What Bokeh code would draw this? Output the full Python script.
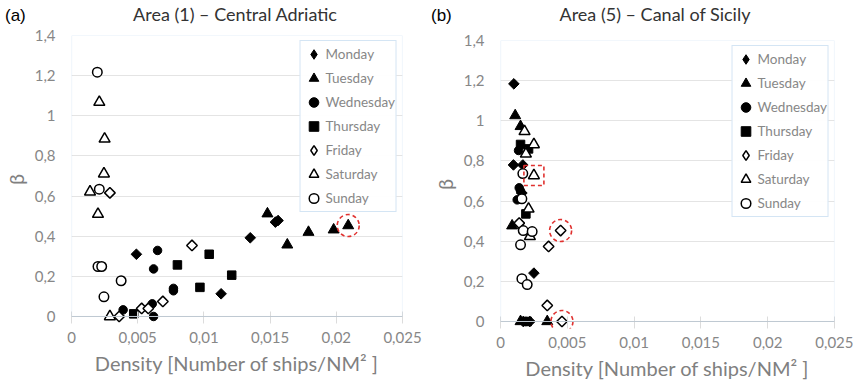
import numpy as np
from bokeh.plotting import figure
from bokeh.layouts import row, column
from bokeh.models import (FixedTicker, Span, BoxAnnotation, Range1d, Legend,
                          LegendItem, Div, Spacer)
from bokeh.embed import file_html
from bokeh.resources import INLINE

# Axis ticks and their comma-decimal labels
Y_TICKS = [0, 0.2, 0.4, 0.6, 0.8, 1.0, 1.2, 1.4]
Y_TICK_LABELS = ["0", "0,2", "0,4", "0,6", "0,8", "1", "1,2", "1,4"]
X_TICKS = [0, 0.005, 0.01, 0.015, 0.02, 0.025]
X_TICK_LABELS = ["0", "0,005", "0,01", "0,015", "0,02", "0,025"]

DAYS = ["Monday", "Tuesday", "Wednesday", "Thursday", "Friday", "Saturday", "Sunday"]

PANEL_LETTERS = ["(a)", "(b)"]
PANEL_TITLES = ["Area (1) – Central Adriatic", "Area (5) – Canal of Sicily"]

# Area (1) - Central Adriatic: density vs beta, per weekday
a1_mon_x = [0.0049, 0.0113, 0.0135, 0.0154, 0.0156]
a1_mon_y = [0.31, 0.113, 0.392, 0.47, 0.478]
a1_tue_x = [0.0148, 0.0163, 0.0179, 0.0198, 0.0209]
a1_tue_y = [0.512, 0.357, 0.42, 0.432, 0.453]
a1_wed_x = [0.0039, 0.0061, 0.0062, 0.0062, 0.0065, 0.0077, 0.0077]
a1_wed_y = [0.033, 0.063, 0.0, 0.237, 0.329, 0.128, 0.14]
a1_thu_x = [0.0047, 0.0080, 0.0097, 0.0104, 0.0121]
a1_thu_y = [0.013, 0.257, 0.145, 0.31, 0.206]
a1_fri_x = [0.0029, 0.0036, 0.0053, 0.0058, 0.0069, 0.0091]
a1_fri_y = [0.616, 0.0, 0.04, 0.04, 0.075, 0.354]
a1_sat_x = [0.0014, 0.0020, 0.0021, 0.00245, 0.0025, 0.0029]
a1_sat_y = [0.621, 0.51, 1.068, 0.711, 0.885, 0.0]
a1_sun_x = [0.00195, 0.0021, 0.0020, 0.00228, 0.00245, 0.00375]
a1_sun_y = [1.217, 0.634, 0.249, 0.249, 0.098, 0.178]

# Area (5) - Canal of Sicily
a5_mon_x = [0.0010, 0.00097, 0.00167, 0.0016, 0.0025, 0.0017, 0.0022]
a5_mon_y = [1.184, 0.78, 0.78, 0.64, 0.241, 0.0, 0.0]
a5_tue_x = [0.0011, 0.0015, 0.00087, 0.0015, 0.0035]
a5_tue_y = [1.026, 0.972, 0.477, 0.0, 0.0]
a5_wed_x = [0.00135, 0.0014, 0.00125, 0.0015, 0.0019]
a5_wed_y = [0.852, 0.666, 0.606, 0.65, 0.0]
a5_thu_x = [0.0015, 0.0021, 0.0019, 0.0020]
a5_thu_y = [0.882, 0.86, 0.536, 0.0]
a5_fri_x = [0.0014, 0.0036, 0.0045, 0.0035, 0.0046]
a5_fri_y = [0.49, 0.374, 0.453, 0.08, 0.0]
a5_sat_x = [0.0018, 0.0025, 0.0019, 0.0025, 0.0021, 0.0022]
a5_sat_y = [0.947, 0.882, 0.835, 0.727, 0.561, 0.424]
a5_sun_x = [0.00167, 0.0016, 0.0017, 0.00237, 0.0015, 0.0016, 0.0020]
a5_sun_y = [0.737, 0.611, 0.453, 0.448, 0.382, 0.213, 0.184]

FONT = "Lato"
TICK_COLOR = "#878787"
LABEL_COLOR = "#808080"
FRAME_BLUE = "#a9cbe9"
RED = "#e0312f"
HEADER_H = 25

# marker, filled?, size, angle, legend-key marker
STYLES = {
    "Monday": ("square", True, 7.5, np.pi / 4, "diamond"),
    "Tuesday": ("triangle", True, 11, 0, "triangle"),
    "Wednesday": ("circle", True, 8.5, 0, "circle"),
    "Thursday": ("square", True, 8.5, 0, "square"),
    "Friday": ("square", False, 7.5, np.pi / 4, "diamond"),
    "Saturday": ("triangle", False, 11, 0, "triangle"),
    "Sunday": ("circle", False, 9.5, 0, "circle"),
}


def make_panel(series, width, height, border, circled, boxed):
    left, right, top, bottom = border
    p = figure(width=width, height=height,
               min_border_left=left, min_border_right=right,
               min_border_top=top, min_border_bottom=bottom,
               x_range=Range1d(0, 0.025), y_range=Range1d(-0.035, 1.4),
               output_backend="svg", toolbar_location=None,
               background_fill_color="white", border_fill_color="white")
    p.outline_line_color = None
    p.title.visible = False

    # y axis
    p.yaxis.ticker = FixedTicker(ticks=Y_TICKS)
    p.yaxis.major_label_overrides = dict(zip(Y_TICKS, Y_TICK_LABELS))
    p.yaxis.axis_line_color = None
    p.yaxis.major_tick_line_color = None
    p.yaxis.major_tick_out = 0
    p.yaxis.major_tick_in = 0
    p.yaxis.minor_tick_line_color = None
    p.yaxis.major_label_standoff = 16
    p.yaxis.major_label_text_font = FONT
    p.yaxis.major_label_text_font_size = "15px"
    p.yaxis.major_label_text_color = TICK_COLOR
    p.yaxis.axis_label = "β"
    p.yaxis.axis_label_text_font = FONT
    p.yaxis.axis_label_text_font_style = "normal"
    p.yaxis.axis_label_text_font_size = "20px"
    p.yaxis.axis_label_text_color = LABEL_COLOR
    p.yaxis.axis_label_standoff = 4

    # x axis
    p.xaxis.ticker = FixedTicker(ticks=X_TICKS)
    p.xaxis.major_label_overrides = dict(zip(X_TICKS, X_TICK_LABELS))
    p.xaxis.axis_line_color = None
    p.xaxis.major_tick_line_color = "#dcdcdc"
    p.xaxis.major_tick_in = 12
    p.xaxis.major_tick_out = 0
    p.xaxis.minor_tick_line_color = None
    p.xaxis.major_label_standoff = 8
    p.xaxis.major_label_text_font = FONT
    p.xaxis.major_label_text_font_size = "15px"
    p.xaxis.major_label_text_color = TICK_COLOR
    p.xaxis.axis_label = "Density [Number of ships/NM² ]"
    p.xaxis.axis_label_text_font = FONT
    p.xaxis.axis_label_text_font_style = "normal"
    p.xaxis.axis_label_text_font_size = "20px"
    p.xaxis.axis_label_text_color = LABEL_COLOR
    p.xaxis.axis_label_standoff = 5

    p.xgrid.grid_line_color = None
    p.ygrid.ticker = FixedTicker(ticks=Y_TICKS[1:])
    p.ygrid.grid_line_color = "#e4e4e4"

    p.add_layout(Span(location=0, dimension="width", line_color="#c8c8c8", line_width=1))
    p.add_layout(BoxAnnotation(left=0, right=0.025, bottom=0, top=1.4,
                               fill_alpha=0, line_color=FRAME_BLUE, line_width=1.2))

    items = []
    for day in DAYS:
        xs, ys = series[day]
        marker, filled, size, angle, key_marker = STYLES[day]
        style = dict(fill_color="black" if filled else "white", line_color="black",
                     line_width=1 if filled else 1.5)
        key = None
        if key_marker != marker:
            # upright diamond underneath the rotated square; it gives the legend key
            key = p.scatter(xs, ys, marker=key_marker, size=size - 1, **style)
        r = p.scatter(xs, ys, marker=marker, size=size, angle=angle, **style)
        items.append(LegendItem(label=day, renderers=[key or r]))

    # highlighted observations
    if circled:
        cx = [series[d][0][i] for d, i in circled]
        cy = [series[d][1][i] for d, i in circled]
        p.scatter(cx, cy, marker="circle", size=22, fill_color=None,
                  line_color=RED, line_width=1.6, line_dash="4 3")
    if boxed:
        bx = [series[d][0][i] for d, i in boxed]
        by = [series[d][1][i] for d, i in boxed]
        p.scatter(bx, by, marker="square", size=20, fill_color=None,
                  line_color=RED, line_width=1.6, line_dash="4 3")

    lg = Legend(items=items, location="top_right")
    lg.margin = 5
    lg.padding = 1
    lg.spacing = 0
    lg.glyph_width = 24
    lg.glyph_height = 24
    lg.label_height = 24
    lg.label_standoff = 0
    lg.label_text_font = FONT
    lg.label_text_font_size = "13.5px"
    lg.label_text_color = TICK_COLOR
    lg.border_line_color = FRAME_BLUE
    lg.border_line_width = 1.2
    p.add_layout(lg)
    return p


s1 = {"Monday": (a1_mon_x, a1_mon_y), "Tuesday": (a1_tue_x, a1_tue_y),
      "Wednesday": (a1_wed_x, a1_wed_y), "Thursday": (a1_thu_x, a1_thu_y),
      "Friday": (a1_fri_x, a1_fri_y), "Saturday": (a1_sat_x, a1_sat_y),
      "Sunday": (a1_sun_x, a1_sun_y)}
s5 = {"Monday": (a5_mon_x, a5_mon_y), "Tuesday": (a5_tue_x, a5_tue_y),
      "Wednesday": (a5_wed_x, a5_wed_y), "Thursday": (a5_thu_x, a5_thu_y),
      "Friday": (a5_fri_x, a5_fri_y), "Saturday": (a5_sat_x, a5_sat_y),
      "Sunday": (a5_sun_x, a5_sun_y)}

PLOT_H = 386 - HEADER_H
p1 = make_panel(s1, 426, PLOT_H, (69, 24, 10, 63), circled=[("Tuesday", 4)], boxed=[])
p2 = make_panel(s5, 427, PLOT_H - 5, (74, 19, 10, 58),
                circled=[("Friday", 2), ("Friday", 4)], boxed=[("Saturday", 3)])

# header line with panel letters and titles
letter_css = ("position:absolute;top:7px;font-family:'Liberation Sans';font-size:17px;"
              "line-height:17px;color:#000;white-space:nowrap;")
title_css = ("position:absolute;top:5px;font-family:Lato;font-size:18px;line-height:18px;"
             "color:#333;white-space:nowrap;transform:translateX(-50%);")
header_html = (
    f'<div style="position:relative;width:853px;height:{HEADER_H}px;">'
    f'<span style="{letter_css}left:5px;">{PANEL_LETTERS[0]}</span>'
    f'<span style="{title_css}left:235px;">{PANEL_TITLES[0]}</span>'
    f'<span style="{letter_css}left:431px;">{PANEL_LETTERS[1]}</span>'
    f'<span style="{title_css}left:655px;">{PANEL_TITLES[1]}</span>'
    '</div>'
)
header = Div(text=header_html, width=853, height=HEADER_H, margin=0)

right_col = column(Spacer(width=427, height=5, margin=0), p2, spacing=0)
layout = column(header, row(p1, right_col, spacing=0), spacing=0)
open("out.html", "w").write(file_html(layout, INLINE))
